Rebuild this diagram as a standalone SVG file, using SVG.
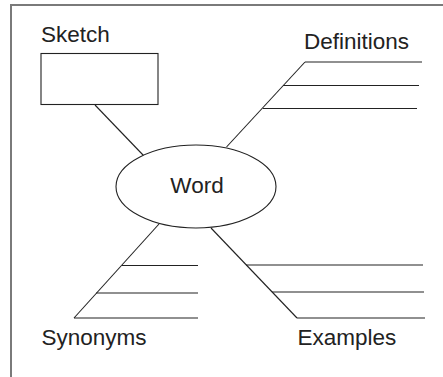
<svg xmlns="http://www.w3.org/2000/svg" width="443" height="377" viewBox="0 0 443 377">
<style>
.frame{fill:none;stroke:#7a7a7a;stroke-width:2}
.shape{fill:#fff;stroke:#222;stroke-width:1.1}
.ln{fill:none;stroke:#222;stroke-width:1.1}
.t{font-family:"Liberation Sans",Arial,sans-serif;font-size:22.5px;fill:#222}
</style>
<rect width="443" height="377" fill="#fff"/>
<path class="frame" d="M11,377 V5 H443"/>
<g id="connectors">
<line class="ln" x1="95" y1="105" x2="143.5" y2="155.5"/>
<line class="ln" x1="305" y1="62" x2="226.5" y2="147"/>
<line class="ln" x1="159" y1="224" x2="74" y2="318"/>
<line class="ln" x1="211" y1="228" x2="297" y2="318"/>
</g>
<g id="sketch">
<text class="t" x="41" y="42">Sketch</text>
<rect class="shape" x="41" y="53.5" width="117" height="51"/>
</g>
<g id="word">
<ellipse class="shape" cx="196" cy="186.5" rx="80" ry="41.5"/>
<text class="t" x="197" y="193" text-anchor="middle">Word</text>
</g>
<g id="definitions">
<text class="t" x="304" y="49">Definitions</text>
<line class="ln" x1="305" y1="62" x2="422" y2="62"/>
<line class="ln" x1="283" y1="85.5" x2="419" y2="85.5"/>
<line class="ln" x1="263" y1="108.5" x2="417" y2="108.5"/>
</g>
<g id="synonyms">
<text class="t" x="41.5" y="345">Synonyms</text>
<line class="ln" x1="122" y1="265.5" x2="198" y2="265.5"/>
<line class="ln" x1="96" y1="293" x2="198" y2="293"/>
<line class="ln" x1="74" y1="318" x2="198" y2="318"/>
</g>
<g id="examples">
<text class="t" x="297.5" y="345">Examples</text>
<line class="ln" x1="246" y1="265" x2="423" y2="265"/>
<line class="ln" x1="272" y1="292" x2="424" y2="292"/>
<line class="ln" x1="297" y1="318" x2="425" y2="318"/>
</g>
</svg>
